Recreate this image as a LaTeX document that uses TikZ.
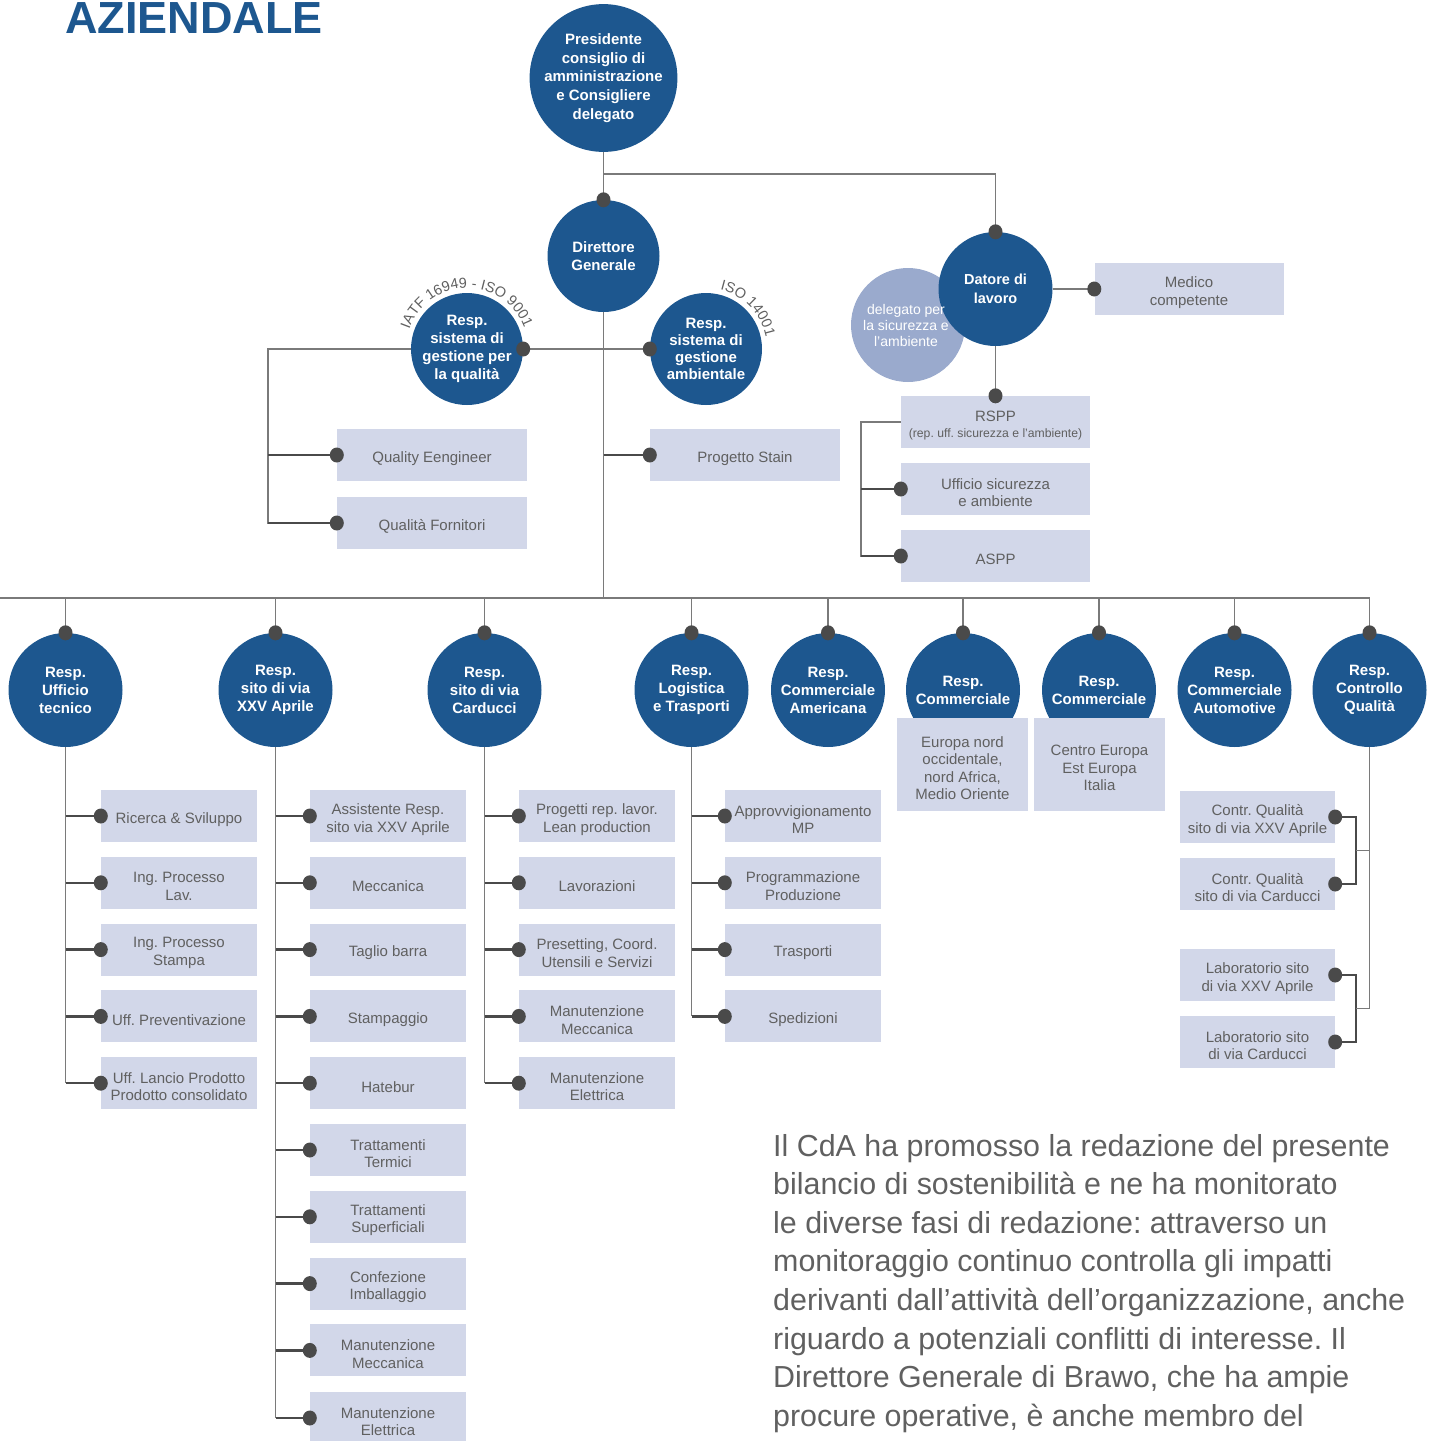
\documentclass[tikz,border=0pt]{standalone}
\usepackage{fontspec}
\setmainfont{Liberation Sans}
\usetikzlibrary{decorations.text,calc}
\definecolor{cblue}{RGB}{29,87,143}
\definecolor{clight}{RGB}{154,170,205}
\definecolor{cbox}{RGB}{210,215,233}
\definecolor{cline}{RGB}{122,122,122}
\definecolor{cdot}{RGB}{74,74,74}
\definecolor{ctext}{RGB}{96,96,96}
\pgfdeclarelayer{bg}
\pgfsetlayers{bg,main}
\newcommand\orgbox[4][]{%
  \node[box,#1] (#2) at (#3) {};
  \node[boxtxt] (#2-t) at ([yshift=-3.5pt]#2.center) {#4};}
\frenchspacing
\begin{document}
\begin{tikzpicture}[x=1pt,y=-1pt,
  circ/.style={circle, fill=cblue, text=white, font=\bfseries\fontsize{15}{18}\selectfont, align=center, inner sep=0pt},
  circlight/.style={circle, fill=clight, inner sep=0pt},
  box/.style={fill=cbox, inner sep=0pt, minimum width=156, minimum height=52},
  boxtxt/.style={text=ctext, font=\fontsize{15}{17.5}\selectfont, align=center, inner sep=0pt},
  ln/.style={draw=cline, line width=1.4pt},
  stub/.style={draw=cdot, line width=2.4pt},
  bodytext/.style={anchor=base west, inner sep=0pt, text=ctext, font=\fontsize{30.4}{38}\selectfont}
]
\useasboundingbox (0,0) rectangle (1434,1441);

% title
\node[anchor=base west, inner sep=0pt, text=cblue, font=\bfseries\fontsize{45}{45}\selectfont] (title) at (65,33) {AZIENDALE};

% top circles
\node[circ, minimum size=144, font=\bfseries\fontsize{15}{18.7}\selectfont] (pres) at (603.5,78) {Presidente\\consiglio di\\amministrazione\\e Consigliere\\delegato};
\node[circ, minimum size=112] (dg) at (603.5,256) {Direttore\\Generale};
\node[circ, minimum size=112] (qual) at (467,349) {Resp.\\sistema di\\gestione per\\la qualità};
\node[circ, minimum size=112, font=\bfseries\fontsize{15}{17}\selectfont] (amb) at (706,349) {Resp.\\sistema di\\gestione\\ambientale};
\node[circlight, minimum size=114] (del) at (908,325) {};
\node[circ, minimum size=114, font=\bfseries\fontsize{14.5}{19}\selectfont] (dat) at (995.5,289) {Datore di\\lavoro};
\node[text=white, font=\fontsize{14}{16}\selectfont, align=center, inner sep=0pt] (del-t) at (906,325) {delegato per\\la sicurezza e\\l’ambiente};

% arc labels
\path[decorate, decoration={text along path, text align=center, text={|\fontsize{14.5}{14.5}\selectfont\color{ctext}|IATF 16949 - ISO 9001}}]
  (qual.center) ++(164:61pt) arc[start angle=164, end angle=17, radius=61pt];
\path[decorate, decoration={text along path, text align=center, text={|\fontsize{14.5}{14.5}\selectfont\color{ctext}|ISO 14001}}]
  (amb.center) ++(82:61pt) arc[start angle=82, end angle=6, radius=61pt];

% top boxes
\orgbox[minimum width=190]{qe}{432,455}{Quality Eengineer}
\orgbox[minimum width=190]{qf}{432,523}{Qualità Fornitori}
\orgbox[minimum width=190]{ps}{745,455}{Progetto Stain}
\orgbox[minimum width=189]{med}{1189,289}{Medico\\competente}
\orgbox[minimum width=189]{rspp}{995.5,422}{RSPP\\[-1pt]{\fontsize{12.2}{14}\selectfont(rep. uff. sicurezza e l’ambiente)}}
\orgbox[minimum width=189]{uff}{995.5,489}{Ufficio sicurezza\\e ambiente}
\orgbox[minimum width=189]{aspp}{995.5,556}{ASPP}

% bottom circles
\node[circ, minimum size=114] (c1) at (65.5,690) {Resp.\\Ufficio\\tecnico};
\node[circ, minimum size=114] (c2) at (275.5,690) {Resp.\\sito di via\\XXV Aprile};
\node[circ, minimum size=114] (c3) at (484.5,690) {Resp.\\sito di via\\Carducci};
\node[circ, minimum size=114] (c4) at (691.5,690) {Resp.\\Logistica\\e Trasporti};
\node[circ, minimum size=114] (c5) at (828,690) {Resp.\\Commerciale\\Americana};
\node[circ, minimum size=114] (c6) at (963,690) {Resp.\\Commerciale};
\node[circ, minimum size=114] (c7) at (1099,690) {Resp.\\Commerciale};
\node[circ, minimum size=114] (c8) at (1234.5,690) {Resp.\\Commerciale\\Automotive};
\node[circ, minimum size=114] (c9) at (1369.5,690) {Resp.\\Controllo\\Qualità};

\orgbox[minimum width=131, minimum height=93]{eu1}{962.5,764.5}{Europa nord\\occidentale,\\nord Africa,\\Medio Oriente}
\orgbox[minimum width=131, minimum height=93]{eu2}{1099.5,764.5}{Centro Europa\\Est Europa\\Italia}

% column 1
\orgbox{a1}{179,816}{Ricerca \& Sviluppo}
\orgbox{a2}{179,882.8}{Ing. Processo\\Lav.}
\orgbox{a3}{179,949.6}{Ing. Processo\\Stampa}
\orgbox{a4}{179,1016.4}{Uff. Preventivazione}
\orgbox{a5}{179,1083.2}{Uff. Lancio Prodotto\\Prodotto consolidato}
% column 2
\orgbox{b1}{388,816}{Assistente Resp.\\sito via XXV Aprile}
\orgbox{b2}{388,882.8}{Meccanica}
\orgbox{b3}{388,949.6}{Taglio barra}
\orgbox{b4}{388,1016.4}{Stampaggio}
\orgbox{b5}{388,1083.2}{Hatebur}
\orgbox{b6}{388,1150}{Trattamenti\\Termici}
\orgbox{b7}{388,1216.8}{Trattamenti\\Superficiali}
\orgbox{b8}{388,1283.6}{Confezione\\Imballaggio}
\orgbox{b9}{388,1350.4}{Manutenzione\\Meccanica}
\orgbox{b10}{388,1418}{Manutenzione\\Elettrica}
% column 3
\orgbox{d1}{597,816}{Progetti rep. lavor.\\Lean production}
\orgbox{d2}{597,882.8}{Lavorazioni}
\orgbox{d3}{597,949.6}{Presetting, Coord.\\Utensili e Servizi}
\orgbox{d4}{597,1016.4}{Manutenzione\\Meccanica}
\orgbox{d5}{597,1083.2}{Manutenzione\\Elettrica}
% column 4
\orgbox{e1}{803,816}{Approvvigionamento\\MP}
\orgbox{e2}{803,882.8}{Programmazione\\Produzione}
\orgbox{e3}{803,949.6}{Trasporti}
\orgbox{e4}{803,1016.4}{Spedizioni}
% quality column
\orgbox[minimum width=155]{q1}{1257.5,817}{Contr. Qualità\\sito di via XXV Aprile}
\orgbox[minimum width=155]{q2}{1257.5,884}{Contr. Qualità\\sito di via Carducci}
\orgbox[minimum width=155]{q3}{1257.5,975}{Laboratorio sito\\di via XXV Aprile}
\orgbox[minimum width=155]{q4}{1257.5,1042}{Laboratorio sito\\di via Carducci}

% body text
\node[bodytext] (t1) at (773,1156) {Il CdA ha promosso la redazione del presente};
\node[bodytext] (t2) at (773,1194.6) {bilancio di sostenibilità e ne ha monitorato};
\node[bodytext] (t3) at (773,1233.2) {le diverse fasi di redazione: attraverso un};
\node[bodytext] (t4) at (773,1271.8) {monitoraggio continuo controlla gli impatti};
\node[bodytext] (t5) at (773,1310.4) {derivanti dall’attività dell’organizzazione, anche};
\node[bodytext] (t6) at (773,1349) {riguardo a potenziali conflitti di interesse. Il};
\node[bodytext] (t7) at (773,1387.6) {Direttore Generale di Brawo, che ha ampie};
\node[bodytext] (t8) at (773,1426.2) {procure operative, è anche membro del};

% connectors
\coordinate (j1) at (603.5,174);
\coordinate (busL) at (0,598);
\coordinate (qL) at (268,0);
\coordinate (rL) at (861,0);
\coordinate (qa) at (1356,0);
\coordinate (m1) at ($(q1.east)!0.5!(q2.east)$);
\coordinate (m2) at ($(q3.east)!0.5!(q4.east)$);
\begin{pgfonlayer}{bg}
  \draw[ln] (pres.south) -- (dg.north);
  \draw[ln] (j1) -| (dat.north);
  \draw[ln] (dg.south) -- (dg.south |- busL);
  \draw[ln] (qual.east) -- (amb.west);
  \draw[ln] (qual.west) -- (qL |- qual.west) |- (qf.west);
  \draw[stub] (qL |- qe.west) -- (qe.west);
  \draw[stub] (qL |- qf.west) -- (qf.west);
  \draw[stub] (dg.south |- ps.west) -- (ps.west);
  \draw[ln] (dat.east) -- (med.west);
  \draw[ln] (dat.south) -- (rspp.north);
  \draw[ln] (rspp.west) -- (rL |- rspp.west) |- (aspp.west);
  \draw[stub] (rL |- uff.west) -- (uff.west);
  \draw[stub] (rL |- aspp.west) -- (aspp.west);
  \draw[ln] (busL) -- (c9.north |- busL);
  \foreach \c in {c1,c2,c3,c4,c5,c6,c7,c8,c9} {\draw[ln] (\c.north |- busL) -- (\c.north);}
  \draw[ln] (c1.south) -- (c1.south |- a5.west);
  \foreach \b in {a1,a2,a3,a4,a5} {\draw[stub] (c1.south |- \b.west) -- (\b.west);}
  \draw[ln] (c2.south) -- (c2.south |- b10.west);
  \foreach \b in {b1,b2,b3,b4,b5,b6,b7,b8,b9,b10} {\draw[stub] (c2.south |- \b.west) -- (\b.west);}
  \draw[ln] (c3.south) -- (c3.south |- d5.west);
  \foreach \b in {d1,d2,d3,d4,d5} {\draw[stub] (c3.south |- \b.west) -- (\b.west);}
  \draw[ln] (c4.south) -- (c4.south |- e4.west);
  \foreach \b in {e1,e2,e3,e4} {\draw[stub] (c4.south |- \b.west) -- (\b.west);}
  \draw[ln] (c9.south) -- (c9.south |- m2);
  \draw[ln, draw=cdot] (q1.east) -| (qa |- q2.east) -- (q2.east);
  \draw[ln, draw=cdot] (q3.east) -| (qa |- q4.east) -- (q4.east);
  \draw[ln] (qa |- m1) -- (c9.south |- m1);
  \draw[ln] (qa |- m2) -- (c9.south |- m2);
\end{pgfonlayer}

% dots
\foreach \p in {dg.north, dat.north, qual.east, amb.west, med.west, rspp.north, qe.west, qf.west, ps.west, uff.west, aspp.west,
  c1.north, c2.north, c3.north, c4.north, c5.north, c6.north, c7.north, c8.north, c9.north,
  a1.west, a2.west, a3.west, a4.west, a5.west,
  b1.west, b2.west, b3.west, b4.west, b5.west, b6.west, b7.west, b8.west, b9.west, b10.west,
  d1.west, d2.west, d3.west, d4.west, d5.west,
  e1.west, e2.west, e3.west, e4.west,
  q1.east, q2.east, q3.east, q4.east}
  {\fill[cdot] (\p) ellipse [x radius=7pt, y radius=7.5pt];}
\end{tikzpicture}
\end{document}
